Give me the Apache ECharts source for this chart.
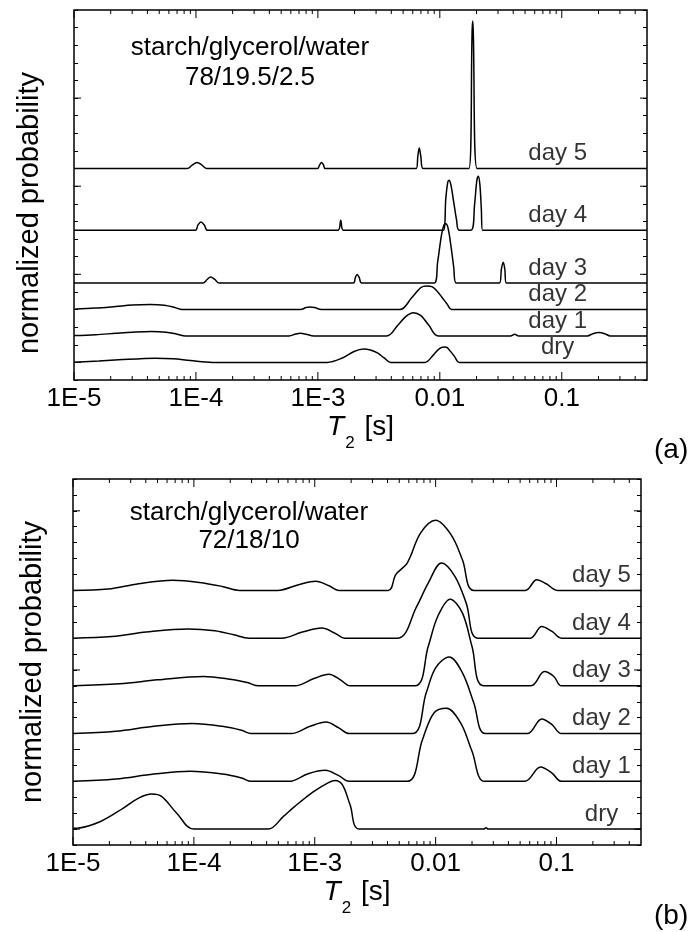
<!DOCTYPE html>
<html>
<head>
<meta charset="utf-8">
<script src="https://cdn.jsdelivr.net/npm/echarts@6/dist/echarts.min.js"></script>
<style>
html, body { margin: 0; padding: 0; background: #fff; }
#chart { width: 693px; height: 932px; }
</style>
</head>
<body>
<div id="chart"></div>
<script>
// x axis (T2 in seconds), shared by both panels
var xMin = 1e-5, xMax = 0.5;
var xTickValues = [1e-5, 1e-4, 1e-3, 0.01, 0.1];
var xTickLabels = ['1E-5', '1E-4', '1E-3', '0.01', '0.1'];
var xMinorTicks = [];
for (var d = 0; d < xTickValues.length; d++) {
	for (var k = 2; k <= 9; k++) {
		var v = k * xTickValues[d];
		if (v < xMax) xMinorTicks.push(v);
	}
}

var curveNames = ['dry', 'day 1', 'day 2', 'day 3', 'day 4', 'day 5'];

// panel (a): starch/glycerol/water 78/19.5/2.5
var offsetsA = [1, 2.5, 4, 5.5, 8.5, 12];
var yMaxA = 21;
var dryA = [[1e-5,0.01],[1.6e-5,0.08],[2.5e-5,0.16],[3.5e-5,0.21],[4.6e-5,0.23],[6.5e-5,0.2],[9e-5,0.1],[1.37e-4,0],
	[1.19e-3,0],[1.59e-3,0.25],[1.98e-3,0.62],[2.37e-3,0.76],[2.7e-3,0.7],[3.05e-3,0.55],[3.5e-3,0.25],[3.94e-3,0],
	[7.53e-3,0],[8.8e-3,0.4],[1.0e-2,0.8],[1.12e-2,0.87],[1.23e-2,0.6],[1.33e-2,0.3],[1.44e-2,0],[0.5,0]];
var day1A = [[1e-5,0.02],[1.5e-5,0.07],[2.2e-5,0.15],[3e-5,0.21],[4.3e-5,0.25],[5.7e-5,0.21],[7e-5,0.1],[8.2e-5,0],
	[5.8e-4,0],[6.6e-4,0.11],[7.2e-4,0.15],[8.0e-4,0.1],[9.27e-4,0],
	[3.66e-3,0],[4.54e-3,0.62],[5.25e-3,1.1],[6.07e-3,1.32],[7.0e-3,1.15],[8.1e-3,0.62],[9.7e-3,0],
	[0.038,0],[0.0411,0.1],[0.0443,0],
	[0.162,0],[0.18,0.13],[0.201,0.19],[0.225,0.13],[0.25,0],[0.5,0]];
var day2A = [[1e-5,0.02],[1.5e-5,0.08],[2.2e-5,0.17],[3e-5,0.25],[4.2e-5,0.28],[5.5e-5,0.24],[6.7e-5,0.12],[7.7e-5,0],
	[7.2e-4,0],[8.0e-4,0.11],[8.6e-4,0.15],[9.4e-4,0.11],[1.07e-3,0],
	[4.71e-3,0],[5.85e-3,0.65],[7.0e-3,1.25],[7.8e-3,1.34],[8.6e-3,1.3],[9.35e-3,1.1],[1.04e-2,0.7],[1.15e-2,0.3],[1.247e-2,0],[0.5,0]];
var day3A = [[1e-5,0],[1.14e-4,0],[1.24e-4,0.22],[1.32e-4,0.34],[1.42e-4,0.22],[1.556e-4,0],
	[1.95e-3,0],[2.03e-3,0.32],[2.1e-3,0.49],[2.18e-3,0.32],[2.29e-3,0],
	[9.0e-3,0],[9.6e-3,1.2],[1.03e-2,2.7],[1.08e-2,3.3],[1.12e-2,3.37],[1.17e-2,3.1],[1.24e-2,2.0],[1.30e-2,0.9],[1.362e-2,0],
	[0.0308,0],[0.0320,0.8],[0.0331,1.19],[0.0341,0.8],[0.0351,0],[0.5,0]];
var day4A = [[1e-5,0],[9.9e-5,0],[1.04e-4,0.3],[1.1e-4,0.47],[1.17e-4,0.3],[1.245e-4,0],
	[1.46e-3,0],[1.54e-3,0.57],[1.62e-3,0],
	[0.01066,0],[0.0112,1.8],[0.0116,2.7],[0.0119,2.84],[0.0123,2.6],[0.0130,1.6],[0.0137,0.6],[0.0144,0],
	[0.018,0],[0.0193,1.5],[0.0201,2.8],[0.0207,3.06],[0.0213,2.6],[0.0219,1.2],[0.0224,0],[0.5,0]];
var day5A = [[1e-5,0],[8.5e-5,0],[9.3e-5,0.2],[1.02e-4,0.34],[1.12e-4,0.2],[1.23e-4,0],
	[0.99e-3,0],[1.035e-3,0.22],[1.07e-3,0.34],[1.11e-3,0.22],[1.15e-3,0],
	[6.4e-3,0],[6.6e-3,0.7],[6.78e-3,1.17],[6.98e-3,0.7],[7.3e-3,0],
	[0.0173,0],[0.0184,7.8],[0.0186,8.38],[0.0188,7.8],[0.0202,0],[0.5,0]];
var curvesA = [dryA, day1A, day2A, day3A, day4A, day5A];

// panel (b): starch/glycerol/water 72/18/10
var offsetsB = [1, 4, 7, 10, 13, 16];
var yMaxB = 23;
var dryB = [[1e-5,0.05],[1.09e-5,0.06],[1.69e-5,0.48],[2.61e-5,1.32],[3.49e-5,1.95],[4.5e-5,2.2],[5.4e-5,2.05],[7.21e-5,1.0],[1e-4,0],
	[4.12e-4,0],[5.51e-4,0.8],[6.84e-4,1.43],[9.84e-4,2.37],[1.31e-3,2.94],[1.47e-3,3.06],[1.69e-3,2.79],[1.96e-3,1.53],[2.35e-3,0],
	[0.025,0],[0.0261,0.08],[0.0272,0],[0.5,0]];
var day1B = [[1e-5,0],[2.26e-5,0.15],[4.67e-5,0.46],[9.3e-5,0.63],[1.72e-4,0.46],[2.48e-4,0.21],[2.97e-4,0],
	[6.14e-4,0],[8.82e-4,0.48],[1.22e-3,0.69],[1.58e-3,0.36],[1.92e-3,0],
	[5.82e-3,0],[7.78e-3,2.62],[9.68e-3,4.3],[0.0123,4.6],[0.0161,3.67],[0.02,1.89],[0.0254,0],
	[0.0545,0],[0.0738,0.9],[0.0918,0.52],[0.11,0],[0.5,0]];
var day2B = [[1e-5,0],[2.26e-5,0.15],[4.67e-5,0.46],[9.64e-5,0.63],[1.72e-4,0.46],[2.48e-4,0.21],[2.97e-4,0],
	[6.37e-4,0],[9.15e-4,0.46],[1.24e-3,0.73],[1.58e-3,0.36],[1.92e-3,0],
	[6.4e-3,0],[8.36e-3,2.56],[0.01,4.13],[0.01293,4.82],[0.01667,3.82],[0.0207,1.93],[0.0258,0],
	[0.0573,0],[0.0754,0.92],[0.0918,0.57],[0.11,0],[0.5,0]];
var day3B = [[1e-5,0],[2.43e-5,0.13],[5.02e-5,0.38],[1.2e-4,0.59],[1.99e-4,0.42],[2.76e-4,0.21],[3.43e-4,0],
	[6.84e-4,0],[9.84e-4,0.46],[1.31e-3,0.73],[1.63e-3,0.38],[1.96e-3,0],
	[6.73e-3,0],[8.68e-3,2.47],[0.0104,4.36],[0.0132,5.45],[0.01667,4.57],[0.02,2.47],[0.0249,0],
	[0.0615,0],[0.0794,0.9],[0.0951,0.59],[0.11,0],[0.5,0]];
var day4B = [[1e-5,0],[2.1e-5,0.1],[4.03e-5,0.38],[8.97e-5,0.57],[1.49e-4,0.46],[2.14e-4,0.21],[2.86e-4,0],
	[5.31e-4,0],[7.9e-4,0.38],[1.14e-3,0.63],[1.47e-3,0.31],[1.76e-3,0],
	[4.85e-3,0],[6.98e-3,2.0],[8.68e-3,3.46],[0.0112,4.72],[0.01443,3.88],[0.0179,2.2],[0.0223,0],
	[0.0607,0],[0.0754,0.73],[0.0918,0.42],[0.11,0],[0.5,0]];
var day5B = [[1e-5,0],[1.95e-5,0.08],[3.49e-5,0.42],[6.71e-5,0.63],[1.11e-4,0.5],[1.72e-4,0.25],[2.39e-4,0],
	[4.93e-4,0],[7.36e-4,0.36],[1.02e-3,0.57],[1.31e-3,0.29],[1.58e-3,0],
	[4.05e-3,0],[4.68e-3,0.99],[5.82e-3,1.72],[7.5e-3,3.6],[0.01,4.4],[0.0134,3.5],[0.01666,1.93],[0.0207,0],
	[0.0552,0],[0.0686,0.67],[0.0822,0.42],[0.102,0],[0.5,0]];
var curvesB = [dryB, day1B, day2B, day3B, day4B, day5B];

// y ticks (one unit per minor tick, longer ones every five)
var yMajorTicks = [1, 6, 11, 16, 21];

var FONT = 'Liberation Sans, Arial, Helvetica, sans-serif';
var myChart = echarts.init(document.getElementById('chart'));

var grids = [
	{left: 74, top: 10, width: 573, height: 370, show: true, borderColor: '#000', borderWidth: 1.5},
	{left: 73, top: 479, width: 568, height: 366, show: true, borderColor: '#000', borderWidth: 1.5}
];
var xAxes = [], yAxes = [], series = [], panels = [];

function minorY(g, pos, yMax, withName, nameGap, namePad) {
	var ax = {
		type: 'value', gridIndex: g, position: pos,
		min: 0, max: yMax, interval: 1,
		axisLine: {show: false, onZero: false},
		axisTick: {show: true, inside: true, length: 4, lineStyle: {color: '#000', width: 1}},
		axisLabel: {show: false},
		splitLine: {show: false}
	};
	if (withName) {
		ax.name = 'normalized probability';
		ax.nameLocation = 'middle';
		ax.nameGap = nameGap;
		ax.nameTextStyle = {color: '#000', fontSize: 29, fontFamily: FONT, padding: namePad};
	}
	return ax;
}

function addPanel(g, curves, offsets, yMax, labelX, labelDy, nameGap, namePad) {
	var xi = xAxes.length, yi = yAxes.length;
	panels.push({xi: xi, yi: yi, yMax: yMax});
	xAxes.push({
		type: 'log', logBase: 10, gridIndex: g, position: 'bottom',
		min: xMin, max: xMax,
		axisLine: {show: false, onZero: false},
		axisTick: {show: false},
		axisLabel: {
			show: true, customValues: xTickValues, margin: 6,
			color: '#000', fontSize: 26, fontFamily: FONT,
			formatter: function (val) {
				for (var i = 0; i < xTickValues.length; i++) {
					if (Math.abs(Math.log10(val) - Math.log10(xTickValues[i])) < 1e-6) return xTickLabels[i];
				}
				return '';
			}
		},
		splitLine: {show: false},
		name: '{i|T}{sub|2}{n| [s]}',
		nameLocation: 'middle',
		nameGap: 30,
		nameTextStyle: {
			color: '#000', fontFamily: FONT, verticalAlign: 'top',
			rich: {
				i: {fontSize: 28, fontStyle: 'italic', fontFamily: FONT, lineHeight: 30, verticalAlign: 'top'},
				sub: {fontSize: 17, fontFamily: FONT, lineHeight: 17, padding: [22, 2, 0, 1], verticalAlign: 'top'},
				n: {fontSize: 28, fontFamily: FONT, lineHeight: 30, verticalAlign: 'top'}
			}
		}
	});
	yAxes.push(minorY(g, 'left', yMax, true, nameGap, namePad));
	yAxes.push(minorY(g, 'right', yMax, false));

	curves.forEach(function (c, i) {
		series.push({
			type: 'line', xAxisIndex: xi, yAxisIndex: yi,
			symbol: 'none', silent: true, smooth: 0.35,
			lineStyle: {color: '#000', width: 1.5},
			data: c.map(function (p) { return [p[0], offsets[i] + p[1]]; })
		});
	});

	series.push({
		type: 'scatter', xAxisIndex: xi, yAxisIndex: yi,
		symbolSize: 0, silent: true,
		label: {show: true, position: 'inside', formatter: '{b}', color: '#000', fontSize: 24, fontFamily: FONT},
		data: curveNames.map(function (n, i) {
			return {name: n, value: [labelX, offsets[i] + labelDy]};
		})
	});
}

addPanel(0, curvesA, offsetsA, yMaxA, 0.0925, 0.85, 30, [0, 36, 0, 0]);
addPanel(1, curvesB, offsetsB, yMaxB, 0.2355, 0.95, 26, 0);

var texts = [
	{type: 'text', style: {text: 'starch/glycerol/water\n78/19.5/2.5', x: 250, y: 33, align: 'center', verticalAlign: 'top',
		fontSize: 26, fontFamily: FONT, lineHeight: 30, fill: '#000'}},
	{type: 'text', style: {text: 'starch/glycerol/water\n72/18/10', x: 249, y: 499, align: 'center', verticalAlign: 'top',
		fontSize: 26, fontFamily: FONT, lineHeight: 28, fill: '#000'}},
	{type: 'text', style: {text: '(a)', x: 654, y: 450, align: 'left', verticalAlign: 'middle',
		fontSize: 28, fontFamily: FONT, fill: '#000'}},
	{type: 'text', style: {text: '(b)', x: 654, y: 916, align: 'left', verticalAlign: 'middle',
		fontSize: 28, fontFamily: FONT, fill: '#000'}}
];

myChart.setOption({
	animation: false,
	grid: grids,
	xAxis: xAxes,
	yAxis: yAxes,
	series: series
});

// inward tick marks on all four edges, placed through the axes' own scales
var ticks = [];
function tick(p, x, y, dx, dy) {
	var pt = myChart.convertToPixel({xAxisIndex: p.xi, yAxisIndex: p.yi}, [x, y]);
	ticks.push({
		type: 'line', silent: true, z: 10,
		shape: {x1: pt[0], y1: pt[1], x2: pt[0] + dx, y2: pt[1] + dy},
		style: {stroke: '#000', lineWidth: 1}
	});
}
panels.forEach(function (p) {
	xTickValues.forEach(function (t) {
		tick(p, t, 0, 0, -8);
		tick(p, t, p.yMax, 0, 8);
	});
	xMinorTicks.forEach(function (t) {
		tick(p, t, 0, 0, -4);
		tick(p, t, p.yMax, 0, 4);
	});
	yMajorTicks.forEach(function (t) {
		if (t >= p.yMax) return;
		tick(p, xMin, t, 7, 0);
		tick(p, xMax, t, -7, 0);
	});
});

myChart.setOption({graphic: texts.concat(ticks)});
</script>
</body>
</html>
